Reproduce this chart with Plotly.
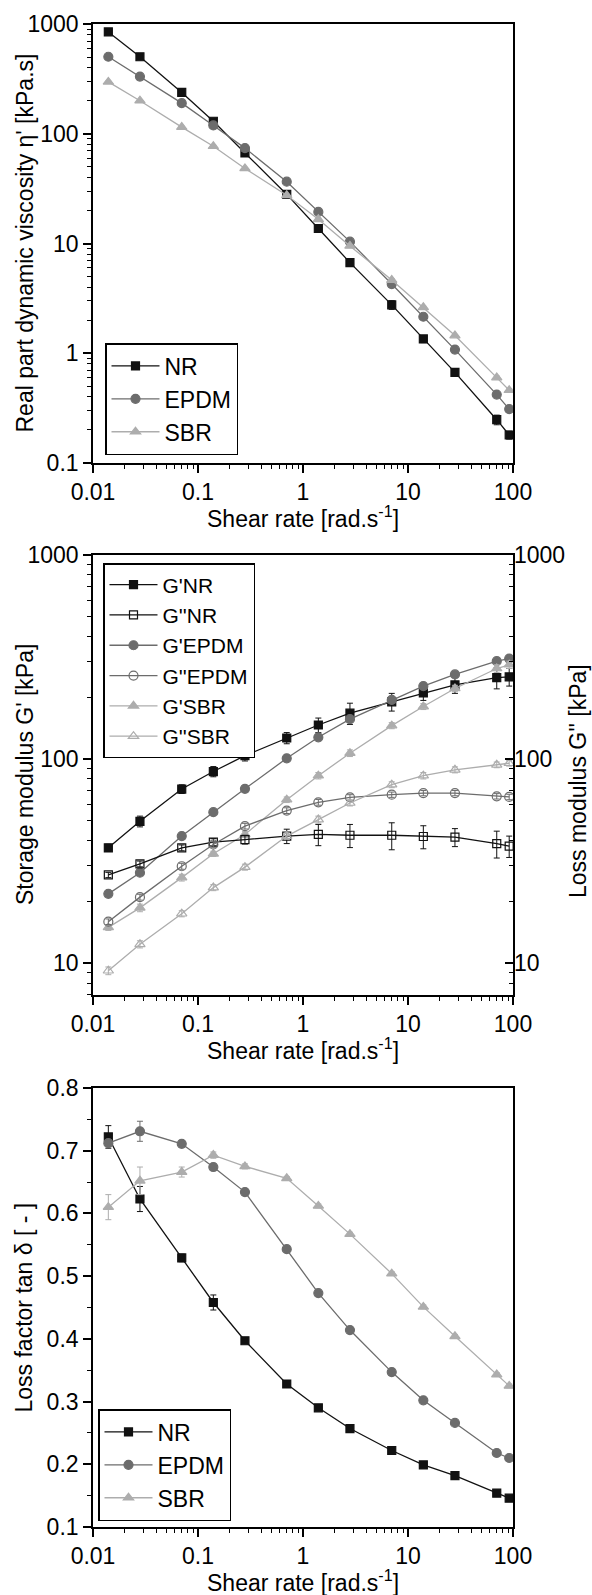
import plotly.graph_objects as go

# ---------------- data ----------------
shear_rate = [0.014, 0.028, 0.07, 0.14, 0.28, 0.7, 1.4, 2.8, 7, 14, 28, 70, 92]

# Panel 1: real part dynamic viscosity [kPa.s]
eta_NR = [847, 503, 238, 130, 66.8, 28, 13.7, 6.7, 2.76, 1.35, 0.67, 0.248, 0.18]
eta_EPDM = [503, 332, 190, 119, 74, 36.6, 19.4, 10.4, 4.27, 2.15, 1.08, 0.42, 0.31]
eta_SBR = [297, 200, 115, 76.9, 48.3, 27.5, 16.6, 9.5, 4.64, 2.62, 1.45, 0.60, 0.46]
eta_NR_err = [10, 6, 4, 3, 2, 1.5, 1.0, 0.5, 0.25, 0.1, 0.04, 0.025, 0.015]
eta_EPDM_err = [5, 4, 3, 2, 1.5, 1.0, 0.6, 0.3, 0.15, 0.08, 0.04, 0.02, 0.015]
eta_SBR_err = [4, 3, 2, 1.5, 1.0, 0.6, 0.4, 0.2, 0.12, 0.06, 0.03, 0.02, 0.015]

# Panel 2: storage (G') and loss (G'') moduli [kPa]
Gp_NR = [36.8, 49.6, 71.4, 87, 104, 127, 147, 168, 191, 211, 231, 251, 253]
Gpp_NR = [27.1, 30.7, 36.8, 39.2, 40.4, 42, 42.8, 42.4, 42.4, 41.8, 41.5, 38.6, 37.5]
Gp_EPDM = [21.9, 27.8, 42, 55, 71.6, 101, 128, 157, 195, 228, 260, 302, 311]
Gpp_EPDM = [16, 21.1, 29.9, 38.2, 47, 56, 61.5, 65, 67, 68.2, 68.2, 65.8, 65.3]
Gp_SBR = [15, 18.7, 26.3, 34.4, 42.8, 63.3, 83, 107, 146, 181, 222, 278, 290]
Gpp_SBR = [9.2, 12.4, 17.5, 23.5, 29.6, 42, 50.6, 61, 75, 83, 88.7, 93.8, 95.5]
Gp_NR_err = [1.5, 3, 3.5, 5, 6, 8, 12, 20, 19, 17, 21, 30, 25]
Gpp_NR_err = [0.8, 1.0, 1.2, 1.6, 2.0, 3.4, 5.1, 5.5, 6.4, 5.4, 4.2, 5.8, 4.5]
Gp_EPDM_err = [0.5, 0.8, 1.0, 1.2, 1.5, 2.5, 3, 5, 6, 7, 8, 10, 10]
Gpp_EPDM_err = [0.5, 0.7, 1.0, 1.2, 1.5, 1.8, 2.0, 2.0, 2.0, 2.0, 2.0, 2.0, 2.0]
Gp_SBR_err = [0.5, 0.8, 1.0, 1.0, 1.5, 2.0, 3.0, 4.0, 5.0, 6.0, 8.0, 12, 12]
Gpp_SBR_err = [0.4, 0.5, 0.6, 0.8, 1.0, 1.5, 2.0, 2.0, 2.5, 3.0, 3.0, 3.0, 3.0]

# Panel 3: loss factor tan delta [-]
tan_NR = [0.722, 0.623, 0.529, 0.458, 0.397, 0.328, 0.290, 0.257, 0.222, 0.199, 0.182, 0.154, 0.146]
tan_EPDM = [0.712, 0.731, 0.711, 0.674, 0.634, 0.543, 0.473, 0.414, 0.347, 0.302, 0.266, 0.218, 0.210]
tan_SBR = [0.610, 0.652, 0.666, 0.693, 0.675, 0.656, 0.612, 0.567, 0.504, 0.451, 0.404, 0.343, 0.325]
tan_NR_err = [0.018, 0.020, 0.006, 0.012, 0.004, 0.003, 0.003, 0.003, 0.003, 0.003, 0.003, 0.003, 0.003]
tan_EPDM_err = [0.005, 0.016, 0.005, 0.005, 0.004, 0.003, 0.003, 0.003, 0.003, 0.003, 0.003, 0.003, 0.003]
tan_SBR_err = [0.020, 0.022, 0.008, 0.005, 0.004, 0.003, 0.003, 0.003, 0.003, 0.003, 0.003, 0.003, 0.003]

x_tickvals = [0.01, 0.1, 1, 10, 100]
x_ticktext = ["0.01", "0.1", "1", "10", "100"]
y1_tickvals = [0.1, 1, 10, 100, 1000]
y1_ticktext = ["0.1", "1", "10", "100", "1000"]
y2_tickvals = [10, 100, 1000]
y2_ticktext = ["10", "100", "1000"]
y3_tickvals = [0.1, 0.2, 0.3, 0.4, 0.5, 0.6, 0.7, 0.8]
y3_ticktext = ["0.1", "0.2", "0.3", "0.4", "0.5", "0.6", "0.7", "0.8"]

# ---------------- style ----------------
C_NR = "#111111"
C_EPDM = "#6c6c6c"
C_SBR = "#adadad"
FONT = "Liberation Sans, Arial, sans-serif"
TICKFONT = dict(family=FONT, size=23, color="black")
TITLE_SIZE = 23

minor_log_x = [d * 10 ** e for e in range(-2, 2) for d in range(2, 10)]
minor_log_y1 = [d * 10 ** e for e in range(-1, 3) for d in range(2, 10)]
minor_log_y2 = [d * 10 ** e for e in range(0, 3) for d in range(2, 10)]
minor_lin_y3 = [0.15, 0.25, 0.35, 0.45, 0.55, 0.65, 0.75]

fig = go.Figure()


def add(x, y, err, name, color, symbol, size, xa, ya, legend):
    fig.add_trace(go.Scatter(
        x=x, y=y, name=name, mode="lines+markers",
        xaxis=xa, yaxis=ya, legend=legend,
        line=dict(color=color, width=1.3),
        marker=dict(color=color, symbol=symbol, size=size,
                    line=dict(color=color, width=1.2)),
        error_y=dict(type="data", array=err, visible=True, color=color,
                     thickness=1, width=3),
    ))


# panel 1
add(shear_rate, eta_NR, eta_NR_err, "NR", C_NR, "square", 8, "x", "y", "legend")
add(shear_rate, eta_EPDM, eta_EPDM_err, "EPDM", C_EPDM, "circle", 9, "x", "y", "legend")
add(shear_rate, eta_SBR, eta_SBR_err, "SBR", C_SBR, "triangle-up", 9, "x", "y", "legend")

# panel 2
add(shear_rate, Gp_NR, Gp_NR_err, "G'NR", C_NR, "square", 8, "x2", "y2", "legend2")
add(shear_rate, Gpp_NR, Gpp_NR_err, "G''NR", C_NR, "square-open", 8, "x2", "y5", "legend2")
add(shear_rate, Gp_EPDM, Gp_EPDM_err, "G'EPDM", C_EPDM, "circle", 9, "x2", "y2", "legend2")
add(shear_rate, Gpp_EPDM, Gpp_EPDM_err, "G''EPDM", C_EPDM, "circle-open", 9, "x2", "y5", "legend2")
add(shear_rate, Gp_SBR, Gp_SBR_err, "G'SBR", C_SBR, "triangle-up", 9, "x2", "y2", "legend2")
add(shear_rate, Gpp_SBR, Gpp_SBR_err, "G''SBR", C_SBR, "triangle-up-open", 9, "x2", "y5", "legend2")

# panel 3
add(shear_rate, tan_NR, tan_NR_err, "NR", C_NR, "square", 8, "x3", "y3", "legend3")
add(shear_rate, tan_EPDM, tan_EPDM_err, "EPDM", C_EPDM, "circle", 9, "x3", "y3", "legend3")
add(shear_rate, tan_SBR, tan_SBR_err, "SBR", C_SBR, "triangle-up", 9, "x3", "y3", "legend3")

# ---------------- layout ----------------
W, H = 592, 1595
ML, MR, MT, MB = 93, 79, 24, 68
PW = W - ML - MR
plot_h = H - MT - MB


def py(px):
    return (H - MB - px) / plot_h


dom1 = [py(463), py(24)]
dom2 = [py(995), py(555)]
dom3 = [py(1527), py(1088)]


def base(**kw):
    d = dict(showline=True, linecolor="black", linewidth=1.6, showgrid=False,
             zeroline=False, ticks="outside", ticklen=8, tickwidth=1.5,
             tickcolor="black", tickfont=TICKFONT, tickmode="array")
    d.update(kw)
    return d


def minor(vals, inside=False):
    return dict(tickmode="array", tickvals=vals, ticks="inside" if inside else "outside",
                ticklen=4, tickwidth=1.2, tickcolor="black", showgrid=False)


def xax(anchor):
    return base(type="log", range=[-2, 2], tickvals=x_tickvals, ticktext=x_ticktext,
                minor=minor(minor_log_x), anchor=anchor, mirror=True)


def xtop(over, anchor):
    return base(type="log", range=[-2, 2], tickvals=x_tickvals, ticktext=x_ticktext,
                minor=minor(minor_log_x, True), ticks="inside", showticklabels=False,
                overlaying=over, anchor=anchor, side="top", showline=False)


fig.update_layout(
    width=W, height=H,
    margin=dict(l=ML, r=MR, t=MT, b=MB),
    paper_bgcolor="white", plot_bgcolor="white",
    font=dict(family=FONT, size=22, color="black"),
    showlegend=True,
    xaxis=xax("y"),
    xaxis2=xax("y2"),
    xaxis3=xax("y3"),
    xaxis4=xtop("x", "y"),
    xaxis5=xtop("x2", "y2"),
    xaxis6=xtop("x3", "y3"),
    yaxis=base(type="log", range=[-1, 3], tickvals=y1_tickvals, ticktext=y1_ticktext,
               minor=minor(minor_log_y1), domain=dom1, anchor="x", mirror=True),
    yaxis4=base(type="log", range=[-1, 3], tickvals=y1_tickvals, ticktext=y1_ticktext,
                minor=minor(minor_log_y1, True), ticks="inside", showticklabels=False,
                overlaying="y", anchor="x", side="right", showline=False),
    yaxis2=base(type="log", range=[0.845, 3], tickvals=y2_tickvals, ticktext=y2_ticktext,
                minor=minor(minor_log_y2), domain=dom2, anchor="x2", mirror=True),
    yaxis5=base(type="log", range=[0.845, 3], tickvals=y2_tickvals, ticktext=y2_ticktext,
                minor=minor(minor_log_y2, True), ticks="inside", showticklabels=True,
                overlaying="y2", anchor="x2", side="right", showline=False),
    yaxis3=base(type="linear", range=[0.1, 0.8], tickvals=y3_tickvals, ticktext=y3_ticktext,
                minor=minor(minor_lin_y3), domain=dom3, anchor="x3", mirror=True),
    yaxis6=base(type="linear", range=[0.1, 0.8], tickvals=y3_tickvals, ticktext=y3_ticktext,
                minor=minor(minor_lin_y3, True), ticks="inside", showticklabels=False,
                overlaying="y3", anchor="x3", side="right", showline=False),
)


def leg(x_px, y_px, anchor, size):
    return dict(x=(x_px - ML) / PW, y=py(y_px), yanchor=anchor, xanchor="left",
                bordercolor="black", borderwidth=1.5, bgcolor="white",
                font=dict(family=FONT, size=size, color="black"),
                itemwidth=48, tracegroupgap=0)


fig.update_layout(
    legend=leg(105, 455, "bottom", 23),
    legend2=leg(103, 563, "top", 21),
    legend3=leg(98, 1521, "bottom", 23),
)

xtitle = "Shear rate [rad.s<sup>-1</sup>]"
ann = []
for dom in (dom1, dom2, dom3):
    ann.append(dict(text=xtitle, xref="paper", yref="paper", x=0.5, y=dom[0],
                    yanchor="middle", yshift=-54, showarrow=False,
                    font=dict(family=FONT, size=TITLE_SIZE, color="black")))
ytitles = [("Real part dynamic viscosity \u03b7' [kPa.s]", dom1, 25),
           ("Storage modulus G' [kPa]", dom2, 25),
           ("Loss factor tan \u03b4 [ - ]", dom3, 23)]
for t, dom, xpx in ytitles:
    ann.append(dict(text=t, xref="paper", yref="paper", x=(xpx - ML) / PW,
                    y=(dom[0] + dom[1]) / 2, textangle=-90, xanchor="center",
                    yanchor="middle", showarrow=False,
                    font=dict(family=FONT, size=TITLE_SIZE, color="black")))
ann.append(dict(text="Loss modulus G'' [kPa]", xref="paper", yref="paper",
                x=(578 - ML) / PW, y=(dom2[0] + dom2[1]) / 2 - 0.004, textangle=-90,
                xanchor="center", yanchor="middle", showarrow=False,
                font=dict(family=FONT, size=TITLE_SIZE, color="black")))
fig.update_layout(annotations=ann)

fig.write_html(
    "out.html",
    config={"displayModeBar": False},
    post_script="document.body.style.margin='0';document.body.style.overflow='hidden';",
)
